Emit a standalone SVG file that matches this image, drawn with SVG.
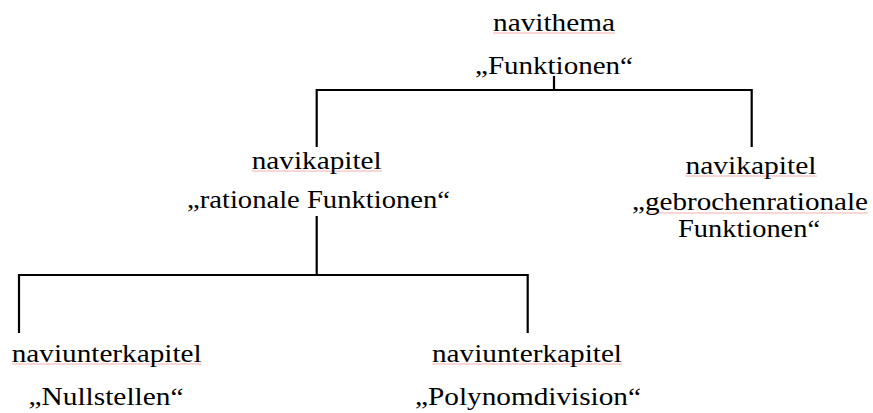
<svg xmlns="http://www.w3.org/2000/svg" width="873" height="413" viewBox="0 0 873 413">
<style>
text{font-family:'Liberation Serif','Times New Roman',serif;font-size:25px;fill:#000;text-anchor:middle}
.c{fill:none;stroke:#000;stroke-width:2.2}
.sp{stroke:#f4b0b0;stroke-width:1}
</style>
<rect width="873" height="413" fill="#fff"/>
<g id="connectors">
<path class="c" d="M554 76V90M316.7 147V90H751.7V147"/>
<path class="c" d="M316.7 216V275M19 333V275H527.7V333"/>
</g>
<g id="node-navithema">
<line class="sp" x1="493" y1="33" x2="615" y2="33"/>
<text x="554" y="31" textLength="122" lengthAdjust="spacingAndGlyphs">navithema</text>
<text x="554" y="74" textLength="158" lengthAdjust="spacingAndGlyphs">„Funktionen“</text>
</g>
<g id="node-rationale">
<line class="sp" x1="252" y1="171" x2="382" y2="171"/>
<text x="316.7" y="169" textLength="130" lengthAdjust="spacingAndGlyphs">navikapitel</text>
<text x="318.5" y="208" textLength="263" lengthAdjust="spacingAndGlyphs">„rationale Funktionen“</text>
</g>
<g id="node-gebrochen">
<line class="sp" x1="685" y1="176" x2="817" y2="176"/>
<text x="751" y="174" textLength="131" lengthAdjust="spacingAndGlyphs">navikapitel</text>
<line class="sp" x1="648" y1="213" x2="868" y2="213"/>
<text x="750" y="210" textLength="236" lengthAdjust="spacingAndGlyphs">„gebrochenrationale</text>
<text x="749" y="237" textLength="142" lengthAdjust="spacingAndGlyphs">Funktionen“</text>
</g>
<g id="node-nullstellen">
<line class="sp" x1="12" y1="364" x2="202" y2="364"/>
<text x="106.7" y="362" textLength="190" lengthAdjust="spacingAndGlyphs">naviunterkapitel</text>
<text x="106" y="405" textLength="155" lengthAdjust="spacingAndGlyphs">„Nullstellen“</text>
</g>
<g id="node-polynomdivision">
<line class="sp" x1="432" y1="364" x2="622" y2="364"/>
<text x="527" y="362" textLength="190" lengthAdjust="spacingAndGlyphs">naviunterkapitel</text>
<text x="528" y="405" textLength="226" lengthAdjust="spacingAndGlyphs">„Polynomdivision“</text>
</g>
</svg>
